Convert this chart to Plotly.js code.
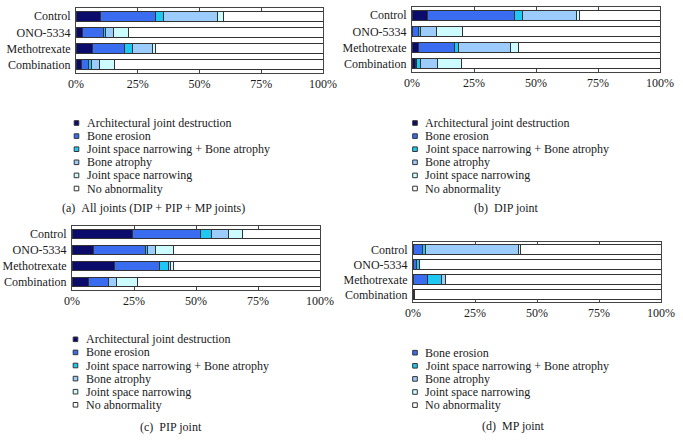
<!DOCTYPE html>
<html><head><meta charset="utf-8">
<script src="https://cdn.plot.ly/plotly-3.0.1.min.js"></script>
<style>html,body{margin:0;padding:0;background:#fff}#chart{width:683px;height:448px}</style>
</head><body><div id="chart"></div>
<script>
// ---- data ----
const categories = ["Control", "ONO-5334", "Methotrexate", "Combination"];
const seriesNames = ["Architectural joint destruction", "Bone erosion", "Joint space narrowing + Bone atrophy", "Bone atrophy", "Joint space narrowing", "No abnormality"];
const tickValues = [0, 25, 50, 75, 100];
const tickLabels = ["0%", "25%", "50%", "75%", "100%"];
const captions = ["(a)\u00a0\u00a0All joints (DIP + PIP + MP joints)", "(b)\u00a0\u00a0DIP joint", "(c)\u00a0\u00a0PIP joint", "(d)\u00a0\u00a0MP joint"];

// (a) All joints
const allArch = [10.1, 2.7, 6.5, 2.3];
const allErosion = [22.1, 8.4, 13.1, 2.7];
const allJsnAtrophy = [3.1, 0.9, 3.4, 1.3];
const allAtrophy = [21.8, 3.1, 8.0, 3.1];
const allJsn = [2.7, 6.1, 1.1, 6.1];
const allNone = [40.2, 78.8, 67.9, 84.5];
// (b) DIP joint
const dipArch = [6.4, 0, 2.7, 1.3];
const dipErosion = [34.9, 2.7, 14.5, 0.5];
const dipJsnAtrophy = [3.2, 0.9, 1.7, 1.7];
const dipAtrophy = [21.9, 6.2, 20.9, 6.7];
const dipJsn = [1.3, 10.5, 3.1, 9.8];
const dipNone = [32.3, 79.7, 57.1, 80.0];
// (c) PIP joint
const pipArch = [24.5, 8.6, 17.3, 6.6];
const pipErosion = [27.2, 21.1, 18.1, 8.3];
const pipJsnAtrophy = [4.7, 0.8, 3.4, 0];
const pipAtrophy = [6.7, 3.0, 0.9, 3.1];
const pipJsn = [5.6, 7.4, 1.1, 8.3];
const pipNone = [31.3, 59.1, 59.2, 73.7];
// (d) MP joint (no architectural joint destruction)
const mpErosion = [3.7, 1.3, 6.0, 0];
const mpJsnAtrophy = [1.3, 1.4, 5.6, 0.8];
const mpAtrophy = [37.4, 0, 1.5, 0];
const mpJsn = [1.1, 0, 0, 0];
const mpNone = [56.5, 97.3, 86.9, 99.2];

// ---- styling ----
const colors = ["#0b0b6b", "#3a6cf0", "#1ec8f2", "#9cccfc", "#ccfcff", "#ffffff"];
const W = 683, H = 448;
const px = x => x / W, py = y => 1 - y / H;
const FONT = "'Liberation Serif', 'DejaVu Serif', serif";

const panels = [
  {series: [allArch, allErosion, allJsnAtrophy, allAtrophy, allJsn, allNone], idx: [0,1,2,3,4,5],
   xd: [76, 323], yd: [8, 73], legX: 76.5, legY: 123, capX: 153, capY: 208},
  {series: [dipArch, dipErosion, dipJsnAtrophy, dipAtrophy, dipJsn, dipNone], idx: [0,1,2,3,4,5],
   xd: [412, 660], yd: [7, 72], legX: 415, legY: 123, capX: 506, capY: 208},
  {series: [pipArch, pipErosion, pipJsnAtrophy, pipAtrophy, pipJsn, pipNone], idx: [0,1,2,3,4,5],
   xd: [72, 320], yd: [226, 290], legX: 75.5, legY: 339.3, capX: 171, capY: 427},
  {series: [mpErosion, mpJsnAtrophy, mpAtrophy, mpJsn, mpNone], idx: [1,2,3,4,5],
   xd: [413, 661], yd: [242, 302], legX: 415, legY: 352.7, capX: 513, capY: 426}
];

const traces = [];
const layout = {
  width: W, height: H, margin: {l: 0, r: 0, t: 0, b: 0},
  paper_bgcolor: "#fff", plot_bgcolor: "#fff",
  barmode: "stack", bargap: 0.38, showlegend: false,
  font: {family: FONT, size: 12, color: "#1a1a1a"},
  shapes: [], annotations: []
};

panels.forEach((p, k) => {
  const n = k === 0 ? "" : String(k + 1);
  p.series.forEach((vals, j) => {
    const ci = p.idx[j];
    traces.push({
      type: "bar", orientation: "h", x: vals, y: categories,
      name: seriesNames[ci], xaxis: "x" + n, yaxis: "y" + n,
      marker: {color: colors[ci], line: {color: "#333", width: 1}},
      hoverinfo: "x+name"
    });
  });
  layout["xaxis" + n] = {
    domain: [px(p.xd[0]), px(p.xd[1])], anchor: "y" + n, range: [0, 100],
    tickvals: tickValues, ticktext: tickLabels, ticks: "inside", ticklen: 3,
    tickcolor: "#444", showline: true, mirror: "ticks", linecolor: "#444", linewidth: 1,
    showgrid: false, zeroline: false, fixedrange: true,
    tickfont: {family: FONT, size: 12, color: "#1a1a1a"}
  };
  layout["yaxis" + n] = {
    domain: [py(p.yd[1]), py(p.yd[0])], anchor: "x" + n, type: "category",
    autorange: "reversed", showline: true, mirror: true, linecolor: "#444", linewidth: 1,
    ticks: "", showgrid: false, zeroline: false, fixedrange: true, ticklabelstandoff: 2,
    tickfont: {family: FONT, size: 12, color: "#1a1a1a"}
  };
  p.idx.forEach((ci, j) => {
    const cy = p.legY + j * 13.1;
    layout.shapes.push({
      type: "rect", xref: "paper", yref: "paper",
      x0: px(p.legX - 2.3), x1: px(p.legX + 2.3), y0: py(cy + 2.3), y1: py(cy - 2.3),
      fillcolor: colors[ci], line: {color: "#333", width: 1}
    });
    layout.annotations.push({
      xref: "paper", yref: "paper", x: px(p.legX + 8.5), y: py(cy),
      xanchor: "left", yanchor: "middle", showarrow: false,
      text: seriesNames[ci], font: {family: FONT, size: 12, color: "#1a1a1a"}
    });
  });
  layout.annotations.push({
    xref: "paper", yref: "paper", x: px(p.capX), y: py(p.capY),
    xanchor: "center", yanchor: "middle", showarrow: false,
    text: captions[k], font: {family: FONT, size: 12, color: "#1a1a1a"}
  });
});

Plotly.newPlot("chart", traces, layout, {displayModeBar: false, staticPlot: true});
</script>
</body></html>
